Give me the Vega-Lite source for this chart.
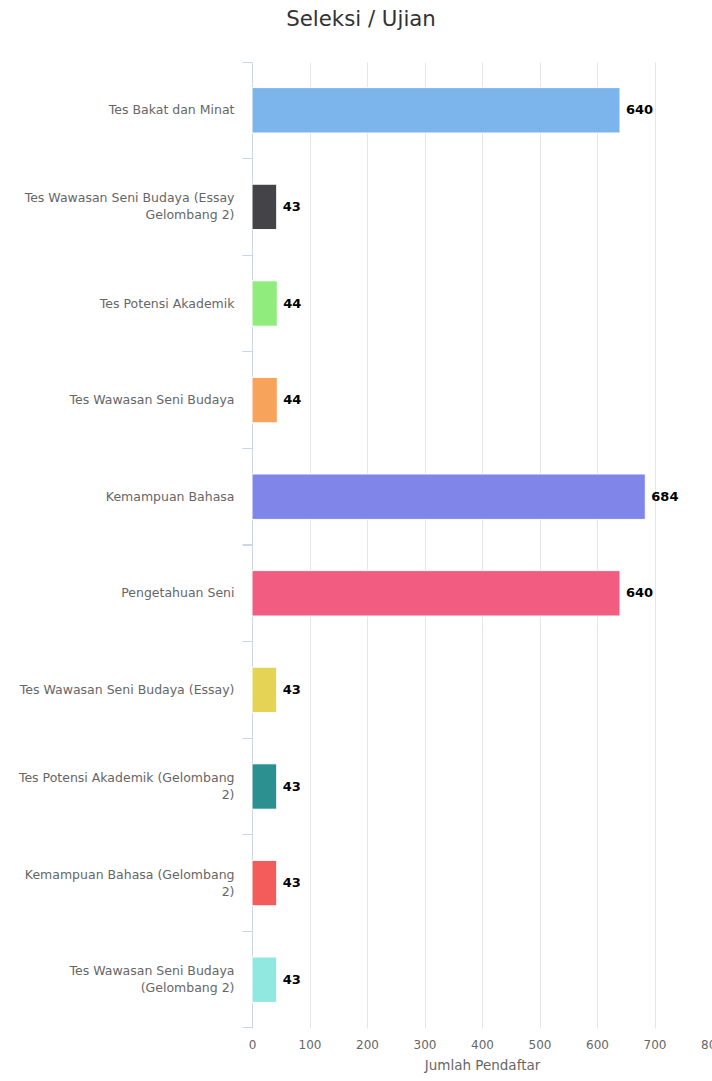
{
  "$schema": "https://vega.github.io/schema/vega-lite/v6.json",
  "autosize": {"type": "none"},
  "padding": {"left": 252, "top": 62, "right": 0, "bottom": 53},
  "width": 460,
  "height": 966,
  "background": "#ffffff",
  "config": {"view": {"stroke": null}, "font": "DejaVu Sans"},
  "title": {"text": "Seleksi / Ujian", "font": "DejaVu Sans", "fontSize": 21.3, "fontWeight": "normal", "color": "#333333", "anchor": "middle", "dx": -121, "offset": 31},
  "data": {"values": [
    {"kategori": "Tes Bakat dan Minat", "jumlah": 640, "warna": "#7cb5ec"},
    {"kategori": "Tes Wawasan Seni Budaya (Essay|Gelombang 2)", "jumlah": 43, "warna": "#434348"},
    {"kategori": "Tes Potensi Akademik", "jumlah": 44, "warna": "#90ed7d"},
    {"kategori": "Tes Wawasan Seni Budaya", "jumlah": 44, "warna": "#f7a35c"},
    {"kategori": "Kemampuan Bahasa", "jumlah": 684, "warna": "#8085e9"},
    {"kategori": "Pengetahuan Seni", "jumlah": 640, "warna": "#f15c80"},
    {"kategori": "Tes Wawasan Seni Budaya (Essay)", "jumlah": 43, "warna": "#e4d354"},
    {"kategori": "Tes Potensi Akademik (Gelombang|2)", "jumlah": 43, "warna": "#2b908f"},
    {"kategori": "Kemampuan Bahasa (Gelombang|2)", "jumlah": 43, "warna": "#f45b5b"},
    {"kategori": "Tes Wawasan Seni Budaya|(Gelombang 2)", "jumlah": 43, "warna": "#91e8e1"}
  ]},
  "encoding": {
    "y": {"field": "kategori", "type": "nominal", "sort": null,
          "scale": {"paddingInner": 0.53, "paddingOuter": 0.265}},
    "x": {"field": "jumlah", "type": "quantitative",
          "scale": {"domain": [0, 800], "nice": false},
          "axis": {"values": [0,100,200,300,400,500,600,700,800], "title": "Jumlah Pendaftar",
                   "domain": false, "ticks": false, "grid": true, "gridColor": "#e6e6e6",
                   "labelColor": "#666666", "labelFontSize": 12, "labelPadding": 11, "labelFlush": false,
                   "titleColor": "#666666", "titleFontSize": 13.5, "titleFontWeight": "normal", "titlePadding": 8}}
  },
  "layer": [
    {
      "mark": {"type": "bar", "stroke": "#ffffff", "strokeWidth": 1},
      "encoding": {
        "color": {"field": "warna", "type": "nominal", "scale": null, "legend": null},
        "y": {"field": "kategori", "type": "nominal", "sort": null,
              "axis": {"title": null, "orient": "left", "ticks": false, "grid": false,
                       "domainColor": "#ccd6eb", "domainWidth": 1,
                       "labelExpr": "split(datum.value, '|')", "labelColor": "#666666", "labelFontSize": 12.5,
                       "labelPadding": 18, "labelLineHeight": 17, "labelLimit": 260,
                       "labelOffset": {"condition": {"test": "indexof(datum.value, '|') >= 0", "value": -8.5}, "value": 0}}}
      }
    },
    {
      "mark": {"type": "text", "align": "left", "dx": 6, "fontWeight": "bold", "fontSize": 13, "color": "#000000"},
      "encoding": {
        "text": {"field": "jumlah", "type": "quantitative"},
        "y": {"field": "kategori", "type": "nominal", "sort": null, "axis": null}
      }
    },
    {
      "mark": {"type": "bar", "opacity": 0},
      "encoding": {
        "y": {"field": "kategori", "type": "nominal", "sort": null,
              "axis": {"title": null, "orient": "left", "bandPosition": -0.5638, "labels": false, "domain": false,
                       "grid": false, "ticks": true, "tickSize": 10, "tickColor": "#ccd6eb"}}
      }
    },
    {
      "mark": {"type": "bar", "opacity": 0},
      "encoding": {
        "y": {"field": "kategori", "type": "nominal", "sort": null,
              "axis": {"title": null, "orient": "left", "bandPosition": 1.5638, "labels": false, "domain": false,
                       "grid": false, "ticks": true, "tickSize": 10, "tickColor": "#ccd6eb"}}
      }
    }
  ],
  "resolve": {"axis": {"y": "independent"}}
}
